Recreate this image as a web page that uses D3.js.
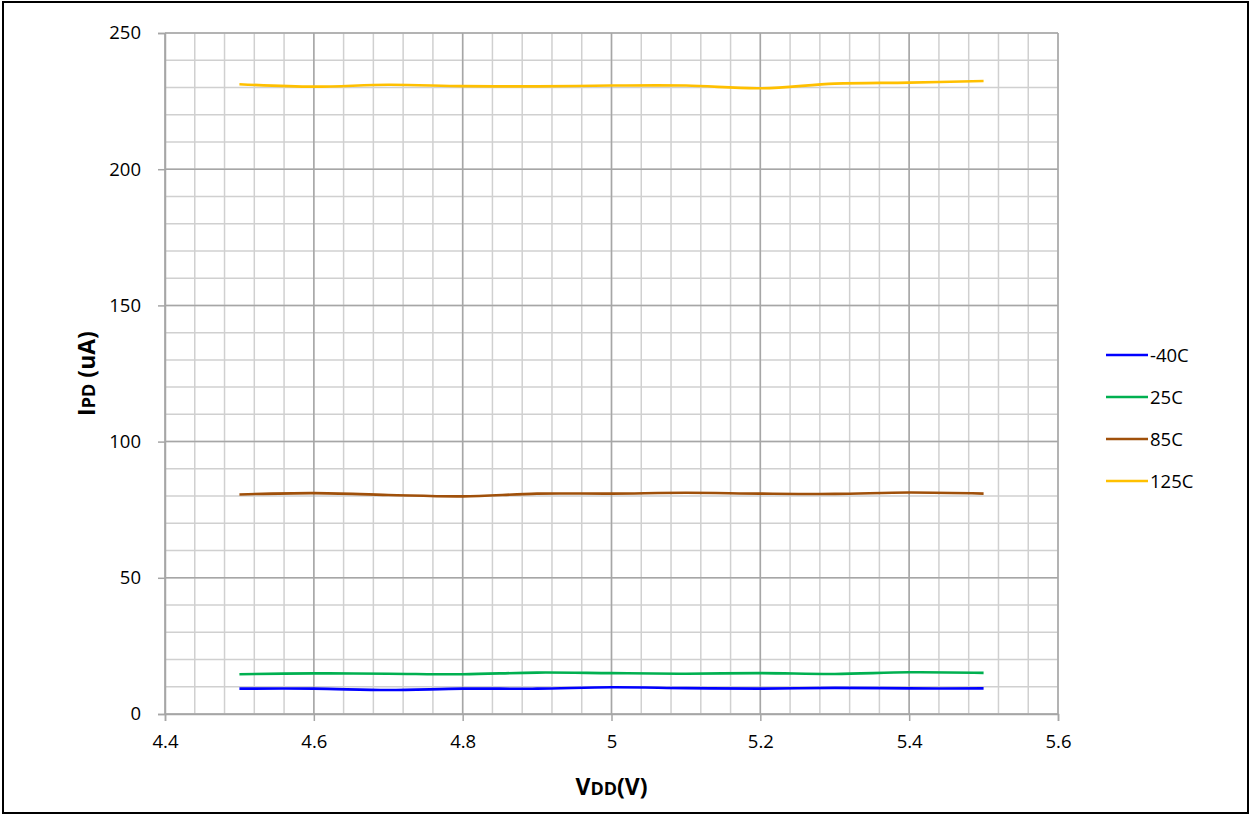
<!DOCTYPE html>
<html><head><meta charset="utf-8">
<script src="https://cdn.jsdelivr.net/npm/d3@7"></script>
<style>body{margin:0;background:#fff}svg{display:block}</style>
</head><body>
<svg id="c" width="1250" height="816"></svg>
<script>
const vdd = [4.5,4.6,4.7,4.8,4.9,5.0,5.1,5.2,5.3,5.4,5.5];
const sM40 = [9.3,9.3,8.8,9.3,9.3,9.8,9.5,9.3,9.6,9.4,9.4];
const s25 = [14.6,14.9,14.8,14.6,15.2,15.0,14.8,15.0,14.7,15.3,15.1];
const s85 = [80.6,81.1,80.4,79.9,80.9,80.9,81.2,80.9,80.8,81.3,80.9];
const s125 = [231.2,230.3,231.0,230.5,230.4,230.7,230.7,229.7,231.4,231.8,232.4];
const seriesNames = ["-40C","25C","85C","125C"];
const seriesColors = ["#0000FF","#00B050","#A0500A","#FFC000"];
const xTicks = [4.4,4.6,4.8,5.0,5.2,5.4,5.6];
const yTicks = [0,50,100,150,200,250];
const allSeries = [sM40,s25,s85,s125];

const svg = d3.select("#c");
const font = "'Open Sans', 'Liberation Sans', Arial, sans-serif";
svg.append("rect").attr("x",3).attr("y",2).attr("width",1245).attr("height",811)
  .attr("fill","#fff").attr("stroke","#000").attr("stroke-width",2);

const L=165,R=1058,T=33,B=714;
const x = d3.scaleLinear().domain([4.4,5.6]).range([L,R]);
const y = d3.scaleLinear().domain([0,250]).range([B,T]);

const g = svg.append("g");
const xMinor = d3.range(0,31).map(i=>4.4+i*0.04);
const yMinor = d3.range(0,26).map(i=>i*10);
g.selectAll(".xm").data(xMinor).join("line")
  .attr("x1",d=>x(d)).attr("x2",d=>x(d)).attr("y1",T).attr("y2",B)
  .attr("stroke","#d0d0d0").attr("stroke-width",1.5);
g.selectAll(".ym").data(yMinor).join("line")
  .attr("y1",d=>y(d)).attr("y2",d=>y(d)).attr("x1",L).attr("x2",R)
  .attr("stroke","#d0d0d0").attr("stroke-width",1.5);
g.selectAll(".xM").data(xTicks).join("line")
  .attr("x1",d=>x(d)).attr("x2",d=>x(d)).attr("y1",T).attr("y2",B)
  .attr("stroke","#a6a6a6").attr("stroke-width",1.5);
g.selectAll(".yM").data(yTicks).join("line")
  .attr("y1",d=>y(d)).attr("y2",d=>y(d)).attr("x1",L).attr("x2",R)
  .attr("stroke","#a6a6a6").attr("stroke-width",1.5);

const xAxis = svg.append("g").attr("transform",`translate(0,${B})`)
  .call(d3.axisBottom(x).tickValues(xTicks).tickSize(7).tickPadding(14).tickFormat(d=>String(+d.toFixed(1))));
const yAxis = svg.append("g").attr("transform",`translate(${L},0)`)
  .call(d3.axisLeft(y).tickValues(yTicks).tickSize(7).tickPadding(17));
[xAxis,yAxis].forEach(a=>{
  a.select(".domain").attr("stroke","#a6a6a6").attr("stroke-width",1.5);
  a.selectAll(".tick line").attr("stroke","#a6a6a6").attr("stroke-width",1.5);
  a.selectAll("text").attr("font-family",font).attr("font-size",18.5).attr("fill","#000");
});

const line = d3.line().x((d,i)=>x(vdd[i])).y(d=>y(d)).curve(d3.curveCatmullRom.alpha(0.5));
allSeries.forEach((s,k)=>{
  svg.append("path").datum(s).attr("d",line).attr("fill","none")
    .attr("stroke",seriesColors[k]).attr("stroke-width",2.6);
});

const xt = svg.append("text").attr("x",(L+R)/2).attr("y",795).attr("text-anchor","middle")
  .attr("font-family",font).attr("font-weight","bold").attr("font-size",23);
xt.append("tspan").text("V");
xt.append("tspan").attr("font-size",18).text("DD");
xt.append("tspan").text("(V)");
const yt = svg.append("text").attr("transform",`translate(95,${(T+B)/2}) rotate(-90)`)
  .attr("text-anchor","middle").attr("font-family",font).attr("font-weight","bold").attr("font-size",23);
yt.append("tspan").text("I");
yt.append("tspan").attr("font-size",18).text("PD");
yt.append("tspan").text(" (uA)");

const lg = svg.append("g");
seriesNames.forEach((n,k)=>{
  const yy = 355 + k*42;
  lg.append("line").attr("x1",1106).attr("x2",1148).attr("y1",yy).attr("y2",yy)
    .attr("stroke",seriesColors[k]).attr("stroke-width",2.6);
  lg.append("text").attr("x",1150).attr("y",yy+7).text(n)
    .attr("font-family",font).attr("font-size",18.5);
});
</script>
</body></html>
